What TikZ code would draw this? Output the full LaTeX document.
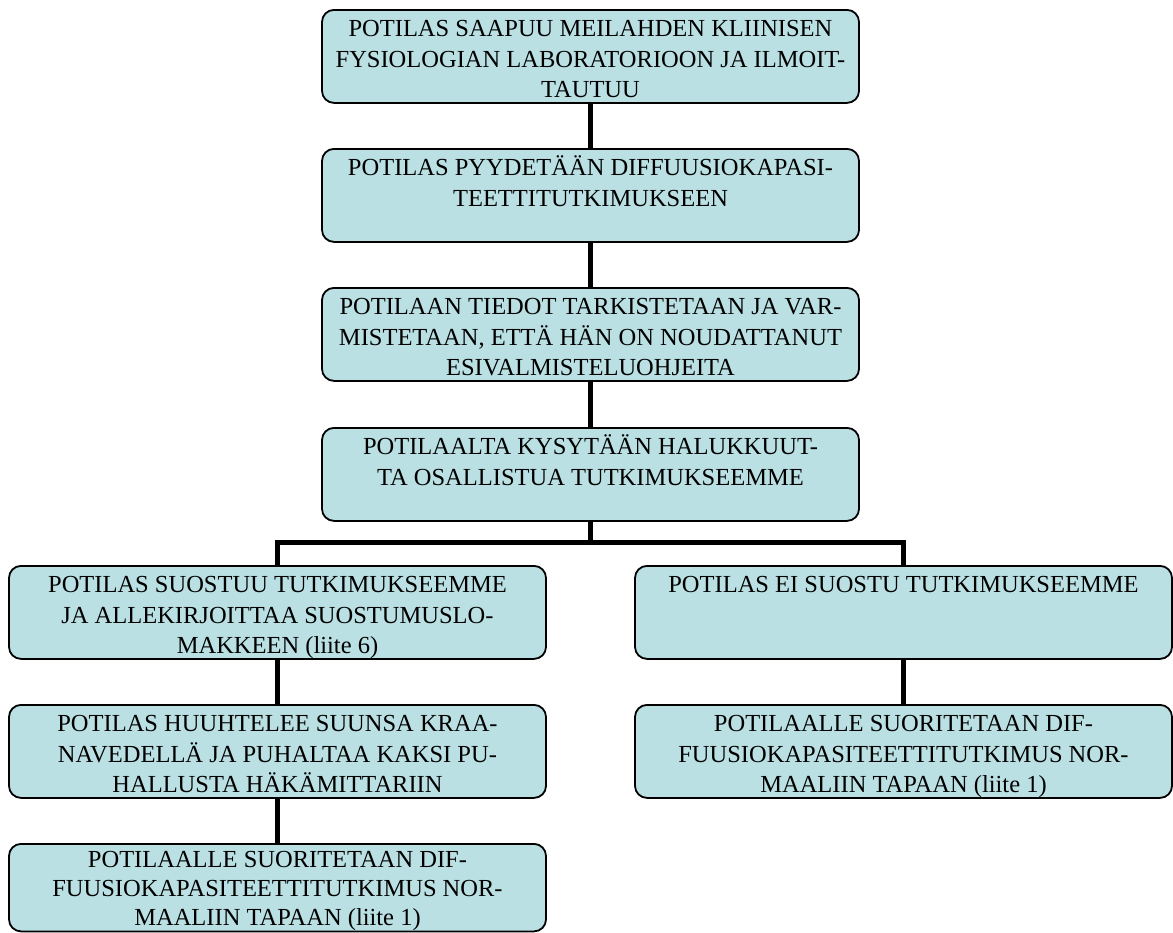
\documentclass[tikz,border=0pt]{standalone}
\usepackage{fontspec}
\setmainfont{Liberation Serif}
\definecolor{boxfill}{RGB}{186,224,227}
\newcommand{\bxt}[3][30.5]{\parbox[c][#2][t]{530pt}{\centering\fontsize{24.5}{#1}\selectfont\strut #3}}
\begin{document}
\begin{tikzpicture}[x=1pt,y=-1pt,
  flowbox/.style={draw=black, line width=1.8pt, fill=boxfill, rounded corners=12pt,
    minimum width=537pt, minimum height=93pt, inner sep=0pt, anchor=north},
  conn/.style={draw=black, line width=5pt, line join=miter}]
\useasboundingbox (0,0) rectangle (1173,932);
\coordinate (h) at (590.5,542);
\node[flowbox] (b1) at (590.5,9) {\bxt{81.7pt}{POTILAS SAAPUU MEILAHDEN KLIINISEN\\FYSIOLOGIAN LABORATORIOON JA ILMOIT-\\TAUTUU}};
\node[flowbox] (b2) at (590.5,148) {\bxt{81.7pt}{POTILAS PYYDETÄÄN DIFFUUSIOKAPASI-\\TEETTITUTKIMUKSEEN}};
\node[flowbox] (b3) at (590.5,287) {\bxt{81.7pt}{POTILAAN TIEDOT TARKISTETAAN JA VAR-\\MISTETAAN, ETTÄ HÄN ON NOUDATTANUT\\ESIVALMISTELUOHJEITA}};
\node[flowbox] (b4) at (590.5,427) {\bxt{81.7pt}{POTILAALTA KYSYTÄÄN HALUKKUUT-\\TA OSALLISTUA TUTKIMUKSEEMME}};
\node[flowbox] (b5l) at (277.5,565) {\bxt{81.7pt}{POTILAS SUOSTUU TUTKIMUKSEEMME\\JA ALLEKIRJOITTAA SUOSTUMUSLO-\\MAKKEEN (liite 6)}};
\node[flowbox] (b5r) at (903.5,565) {\bxt{81.7pt}{POTILAS EI SUOSTU TUTKIMUKSEEMME}};
\node[flowbox] (b6l) at (277.5,704) {\bxt{81.7pt}{POTILAS HUUHTELEE SUUNSA KRAA-\\NAVEDELLÄ JA PUHALTAA KAKSI PU-\\HALLUSTA HÄKÄMITTARIIN}};
\node[flowbox] (b6r) at (903.5,704) {\bxt{81.7pt}{POTILAALLE SUORITETAAN DIF-\\FUUSIOKAPASITEETTITUTKIMUS NOR-\\MAALIIN TAPAAN (liite 1)}};
\node[flowbox, minimum height=87.5pt] (b7l) at (277.5,843) {\bxt[29]{81pt}{POTILAALLE SUORITETAAN DIF-\\FUUSIOKAPASITEETTITUTKIMUS NOR-\\MAALIIN TAPAAN (liite 1)}};
\draw[conn] (b1.south) -- (b2.north);
\draw[conn] (b2.south) -- (b3.north);
\draw[conn] (b3.south) -- (b4.north);
\draw[conn] (b4.south) -- (h);
\draw[conn] (b5l.north) |- (h) -| (b5r.north);
\draw[conn] (b5l.south) -- (b6l.north);
\draw[conn] (b6l.south) -- (b7l.north);
\draw[conn] (b5r.south) -- (b6r.north);
\end{tikzpicture}
\end{document}
